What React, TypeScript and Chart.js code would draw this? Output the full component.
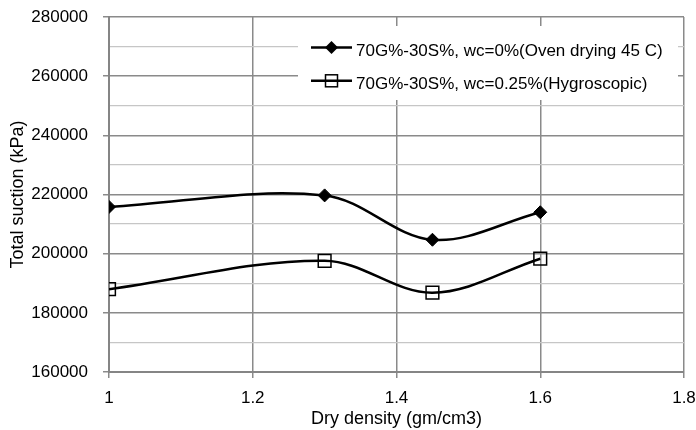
import React, { useEffect, useRef } from 'react';
import { Chart, registerables } from 'chart.js';

Chart.register(...registerables);

// ---- data ----
const densities = [1, 1.3, 1.45, 1.6];
const suctionOven = [215800, 219700, 204700, 214000];
const suctionHygro = [188000, 197600, 186800, 198300];
const seriesLabels = [
  '70G%-30S%, wc=0%(Oven drying 45 C)',
  '70G%-30S%, wc=0.25%(Hygroscopic)',
];
const xTitle = 'Dry density (gm/cm3)';
const yTitle = 'Total suction (kPa)';
const xMin = 1;
const xMax = 1.8;
const xStep = 0.2;
const yMin = 160000;
const yMax = 280000;
const yStep = 10000;
const yLabelStep = 20000;

const FONT = '"Liberation Sans", Arial, sans-serif';
const MAJOR = '#8a8a8a';
const MINOR = '#c6c6c6';

const legendPlugin = {
  id: 'insideLegend',
  afterDraw(chart: any) {
    const ctx = chart.ctx as CanvasRenderingContext2D;
    const ds = chart.data.datasets;
    const boxX = 298, boxY = 26, boxW = 380, boxH = 74;
    ctx.save();
    ctx.fillStyle = '#ffffff';
    ctx.fillRect(boxX, boxY, boxW, boxH);
    const rows = [47.5, 80.8];
    ds.forEach((d: any, i: number) => {
      const y = rows[i];
      ctx.strokeStyle = '#000';
      ctx.lineWidth = 2.5;
      ctx.beginPath();
      ctx.moveTo(311, y);
      ctx.lineTo(352, y);
      ctx.stroke();
      const cx = 331.5;
      if (d.pointStyle === 'rectRot') {
        const r = 6.5;
        ctx.fillStyle = '#000';
        ctx.beginPath();
        ctx.moveTo(cx, y - r);
        ctx.lineTo(cx + r, y);
        ctx.lineTo(cx, y + r);
        ctx.lineTo(cx - r, y);
        ctx.closePath();
        ctx.fill();
      } else {
        const s = 6;
        ctx.lineWidth = 1.5;
        ctx.strokeRect(cx - s, y - s, 2 * s, 2 * s);
      }
      ctx.fillStyle = '#000';
      ctx.font = `17px ${FONT}`;
      ctx.textAlign = 'left';
      ctx.textBaseline = 'alphabetic';
      ctx.fillText(d.label, 356, y + 8.6);
    });
    ctx.restore();
  },
};

export default function App() {
  const canvasRef = useRef<HTMLCanvasElement | null>(null);

  useEffect(() => {
    const canvas = canvasRef.current;
    if (!canvas) return;
    const chart = new Chart(canvas, {
      type: 'line',
      data: {
        datasets: [
          {
            label: seriesLabels[0],
            data: densities.map((x, i) => ({ x, y: suctionOven[i] })),
            borderColor: '#000',
            borderWidth: 2.5,
            tension: 0.35,
            pointStyle: 'rectRot',
            pointRadius: 6.5,
            pointHoverRadius: 6.5,
            pointBackgroundColor: '#000',
            pointBorderColor: '#000',
            pointBorderWidth: 1,
            fill: false,
          },
          {
            label: seriesLabels[1],
            data: densities.map((x, i) => ({ x, y: suctionHygro[i] })),
            borderColor: '#000',
            borderWidth: 2.5,
            tension: 0.35,
            pointStyle: 'rect',
            pointRadius: 9,
            pointHoverRadius: 9,
            pointBackgroundColor: 'rgba(255,255,255,0)',
            pointBorderColor: '#000',
            pointBorderWidth: 1.5,
            fill: false,
          },
        ],
      },
      options: {
        responsive: false,
        animation: false,
        events: [],
        layout: { padding: { top: 17, right: 12, left: 0, bottom: 0 } },
        plugins: {
          legend: { display: false },
          tooltip: { enabled: false },
        },
        scales: {
          x: {
            type: 'linear',
            min: xMin,
            max: xMax,
            afterFit: (scale: any) => {
              scale.height = 58;
              scale.paddingLeft = 0;
              scale.paddingRight = 0;
            },
            ticks: {
              stepSize: xStep,
              color: '#000',
              padding: 10,
              font: { family: FONT, size: 17 },
              maxRotation: 0,
              callback: (v: any) => String(Number(Number(v).toFixed(1))),
            },
            grid: {
              color: MAJOR,
              lineWidth: 1.5,
              tickLength: 6,
              tickColor: MAJOR,
            },
            border: { color: '#858585', width: 2 },
            title: {
              display: true,
              text: xTitle,
              color: '#000',
              font: { family: FONT, size: 18 },
              padding: { top: 0, bottom: 0 },
            },
          },
          y: {
            type: 'linear',
            min: yMin,
            max: yMax,
            afterFit: (scale: any) => {
              scale.width = 109;
              scale.paddingTop = 0;
              scale.paddingBottom = 0;
            },
            ticks: {
              stepSize: yStep,
              color: '#000',
              padding: 15,
              font: { family: FONT, size: 17 },
              callback: (v: any) => (Number(v) % yLabelStep === 0 ? String(v) : ''),
            },
            grid: {
              color: (c: any) => (c.tick && c.tick.value % yLabelStep === 0 ? MAJOR : MINOR),
              lineWidth: (c: any) => (c.tick && c.tick.value % yLabelStep === 0 ? 1.5 : 1.2),
              tickLength: 6,
              tickColor: (c: any) =>
                c.tick && c.tick.value % yLabelStep === 0 ? MAJOR : 'rgba(0,0,0,0)',
            },
            border: { color: '#858585', width: 2 },
            title: {
              display: true,
              text: yTitle,
              color: '#000',
              font: { family: FONT, size: 18 },
              padding: { top: 7, bottom: 0 },
            },
          },
        },
      },
      plugins: [legendPlugin],
    } as any);
    return () => chart.destroy();
  }, []);

  return (
    <div style={{ position: 'absolute', left: 0, top: 0, width: 696, height: 430, background: '#fff' }}>
      <canvas ref={canvasRef} width={696} height={430} style={{ display: 'block' }} />
    </div>
  );
}
